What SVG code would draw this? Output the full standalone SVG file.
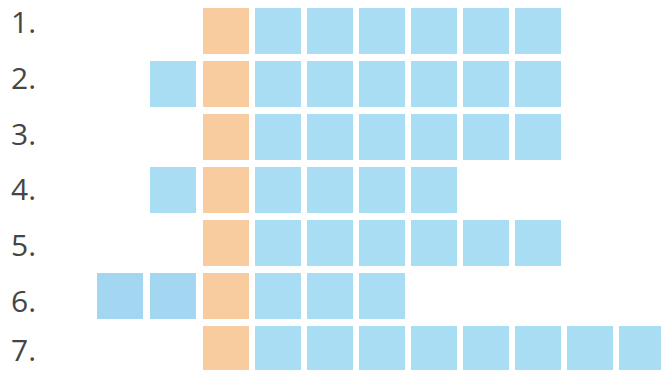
<svg xmlns="http://www.w3.org/2000/svg" width="661" height="370" viewBox="0 0 661 370">
<defs>
<style>
.b{fill:#a9ddf3}
.d{fill:#a3d6f1}
.o{fill:#f8cc9f}
.lbl{font-family:"Open Sans","Liberation Sans",sans-serif;font-size:30px;fill:#454545}
</style>
<rect id="c" width="46" height="46"/>
</defs>
<rect width="661" height="370" fill="#ffffff"/>
<g id="labels">
<text class="lbl" x="11" y="33">1.</text>
<text class="lbl" x="11" y="89">2.</text>
<text class="lbl" x="11" y="145">3.</text>
<text class="lbl" x="11" y="200">4.</text>
<text class="lbl" x="11" y="256">5.</text>
<text class="lbl" x="11" y="312">6.</text>
<text class="lbl" x="11" y="361">7.</text>
</g>
<g id="row1">
<use href="#c" class="o" x="203" y="8"/>
<use href="#c" class="b" x="255" y="8"/><use href="#c" class="b" x="307" y="8"/><use href="#c" class="b" x="359" y="8"/><use href="#c" class="b" x="411" y="8"/><use href="#c" class="b" x="463" y="8"/><use href="#c" class="b" x="515" y="8"/>
</g>
<g id="row2">
<use href="#c" class="b" x="150" y="61"/>
<use href="#c" class="o" x="203" y="61"/>
<use href="#c" class="b" x="255" y="61"/><use href="#c" class="b" x="307" y="61"/><use href="#c" class="b" x="359" y="61"/><use href="#c" class="b" x="411" y="61"/><use href="#c" class="b" x="463" y="61"/><use href="#c" class="b" x="515" y="61"/>
</g>
<g id="row3">
<use href="#c" class="o" x="203" y="114"/>
<use href="#c" class="b" x="255" y="114"/><use href="#c" class="b" x="307" y="114"/><use href="#c" class="b" x="359" y="114"/><use href="#c" class="b" x="411" y="114"/><use href="#c" class="b" x="463" y="114"/><use href="#c" class="b" x="515" y="114"/>
</g>
<g id="row4">
<use href="#c" class="b" x="150" y="167"/>
<use href="#c" class="o" x="203" y="167"/>
<use href="#c" class="b" x="255" y="167"/><use href="#c" class="b" x="307" y="167"/><use href="#c" class="b" x="359" y="167"/><use href="#c" class="b" x="411" y="167"/>
</g>
<g id="row5">
<use href="#c" class="o" x="203" y="220"/>
<use href="#c" class="b" x="255" y="220"/><use href="#c" class="b" x="307" y="220"/><use href="#c" class="b" x="359" y="220"/><use href="#c" class="b" x="411" y="220"/><use href="#c" class="b" x="463" y="220"/><use href="#c" class="b" x="515" y="220"/>
</g>
<g id="row6">
<use href="#c" class="d" x="97" y="273"/><use href="#c" class="d" x="150" y="273"/>
<use href="#c" class="o" x="203" y="273"/>
<use href="#c" class="b" x="255" y="273"/><use href="#c" class="b" x="307" y="273"/><use href="#c" class="b" x="359" y="273"/>
</g>
<g id="row7">
<use href="#c" class="o" x="203" y="326"/>
<use href="#c" class="b" x="255" y="326"/><use href="#c" class="b" x="307" y="326"/><use href="#c" class="b" x="359" y="326"/><use href="#c" class="b" x="411" y="326"/><use href="#c" class="b" x="463" y="326"/><use href="#c" class="b" x="515" y="326"/><use href="#c" class="b" x="567" y="326"/><use href="#c" class="b" x="619" y="326"/>
</g>
<g id="connectors"/>
</svg>
